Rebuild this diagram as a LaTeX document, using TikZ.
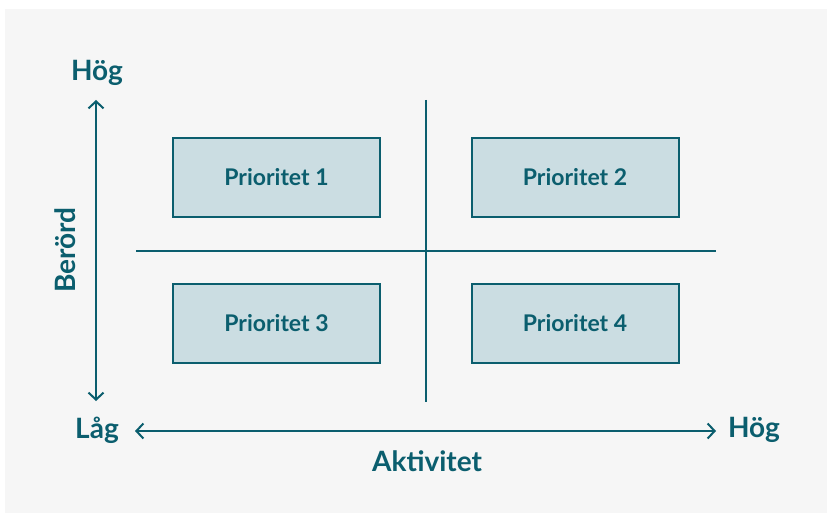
\documentclass[tikz,border=0pt]{standalone}
\usepackage{fontspec}
\setmainfont{Lato}
\usetikzlibrary{arrows.meta}
\definecolor{teal}{HTML}{0B5E6E}
\definecolor{boxfill}{HTML}{CBDDE2}
\definecolor{bg}{HTML}{F6F6F6}
\tikzset{
  prio/.style={draw=teal, line width=2pt, fill=boxfill, minimum width=207pt, minimum height=79pt, inner sep=0pt,
    font=\bfseries\fontsize{23}{27}\selectfont, text=teal},
  lbl/.style={font=\bfseries\fontsize{28}{32}\selectfont, text=teal, inner sep=0pt},
  axis/.style={draw=teal, line width=2pt, {Straight Barb[length=7pt,width=15pt,line width=2pt]}-{Straight Barb[length=7pt,width=15pt,line width=2pt]}},
  divider/.style={draw=teal, line width=2pt}
}
\begin{document}
\begin{tikzpicture}[x=1pt,y=-1pt]
  \useasboundingbox (0,0) rectangle (827,513);
  \fill[white] (0,0) rectangle (827,513);
  \fill[bg] (5,9) rectangle (827,513);

  % quadrant dividers
  \coordinate (vt) at (426,100);
  \coordinate (vb) at (426,402);
  \coordinate (hl) at (136,251);
  \coordinate (hr) at (716,251);
  \draw[divider] (vt) -- (vb);
  \draw[divider] (hl) -- (hr);

  % priority boxes
  \node[prio] (p1) at (276.5,177.5) {Prioritet 1};
  \node[prio] (p2) at (575,177.5) {Prioritet 2};
  \node[prio] (p3) at (276.5,323.5) {Prioritet 3};
  \node[prio] (p4) at (575,323.5) {Prioritet 4};

  % axis labels
  \node[lbl] (ytop) at (97,73) {Hög};
  \node[lbl] (orig) at (97,430) {Låg};
  \node[lbl] (xend) at (754,430) {Hög};
  \node[lbl] (xname) at (427,461) {Aktivitet};
  \node[lbl, rotate=90] (yname) at (65,250) {Berörd};

  % axes
  \coordinate (yup) at (96,100);
  \coordinate (ydown) at (96,401);
  \coordinate (xleft) at (135,431);
  \coordinate (xright) at (716,431);
  \draw[axis] (ydown) -- (yup);
  \draw[axis] (xleft) -- (xright);
\end{tikzpicture}
\end{document}
